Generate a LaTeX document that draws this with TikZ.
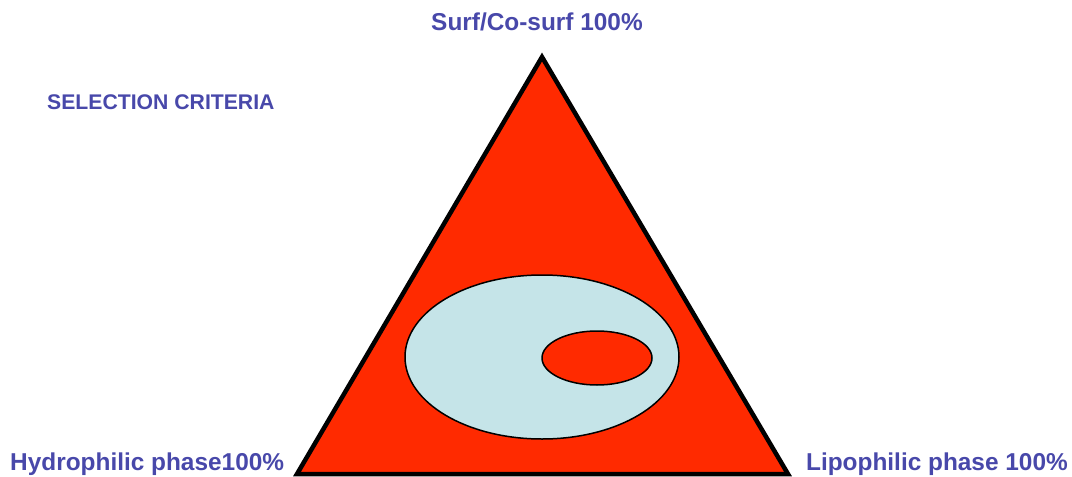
\documentclass[tikz,border=0pt]{standalone}
\usepackage{fontspec}
\setmainfont{Liberation Sans}
\usetikzlibrary{shapes.geometric}
\definecolor{lbl}{RGB}{72,72,170}
\definecolor{tri}{RGB}{255,42,0}
\definecolor{pale}{RGB}{197,228,232}
\begin{document}
\begin{tikzpicture}[x=1pt,y=-1pt,
  lab/.style={text=lbl,font=\bfseries\fontsize{24.4}{28}\selectfont,inner sep=0pt},
  small/.style={text=lbl,font=\bfseries\fontsize{21.2}{24}\selectfont,inner sep=0pt},
  region/.style={draw=black,line width=1.5pt}]
\useasboundingbox (0,0) rectangle (1072,477);
\coordinate (top) at (542,57);
\coordinate (bl) at (297,474);
\coordinate (br) at (788,474);
\filldraw[fill=tri,draw=black,line width=4.5pt,line join=miter] (top) -- (bl) -- (br) -- cycle;
\node[region,fill=pale,ellipse,minimum width=274pt,minimum height=164pt,inner sep=0pt] (big) at (542,357) {};
\node[region,fill=tri,ellipse,minimum width=110pt,minimum height=54pt,inner sep=0pt] (small) at (597,358) {};
\node[lab,anchor=base] (t) at (537,30) {Surf/Co-surf 100\%};
\node[small,anchor=base west] (sel) at (47,109) {SELECTION CRITERIA};
\node[lab,anchor=base west] (h) at (10,470) {Hydrophilic phase100\%};
\node[lab,anchor=base east] (l) at (1068,470) {Lipophilic phase 100\%};
\end{tikzpicture}
\end{document}
